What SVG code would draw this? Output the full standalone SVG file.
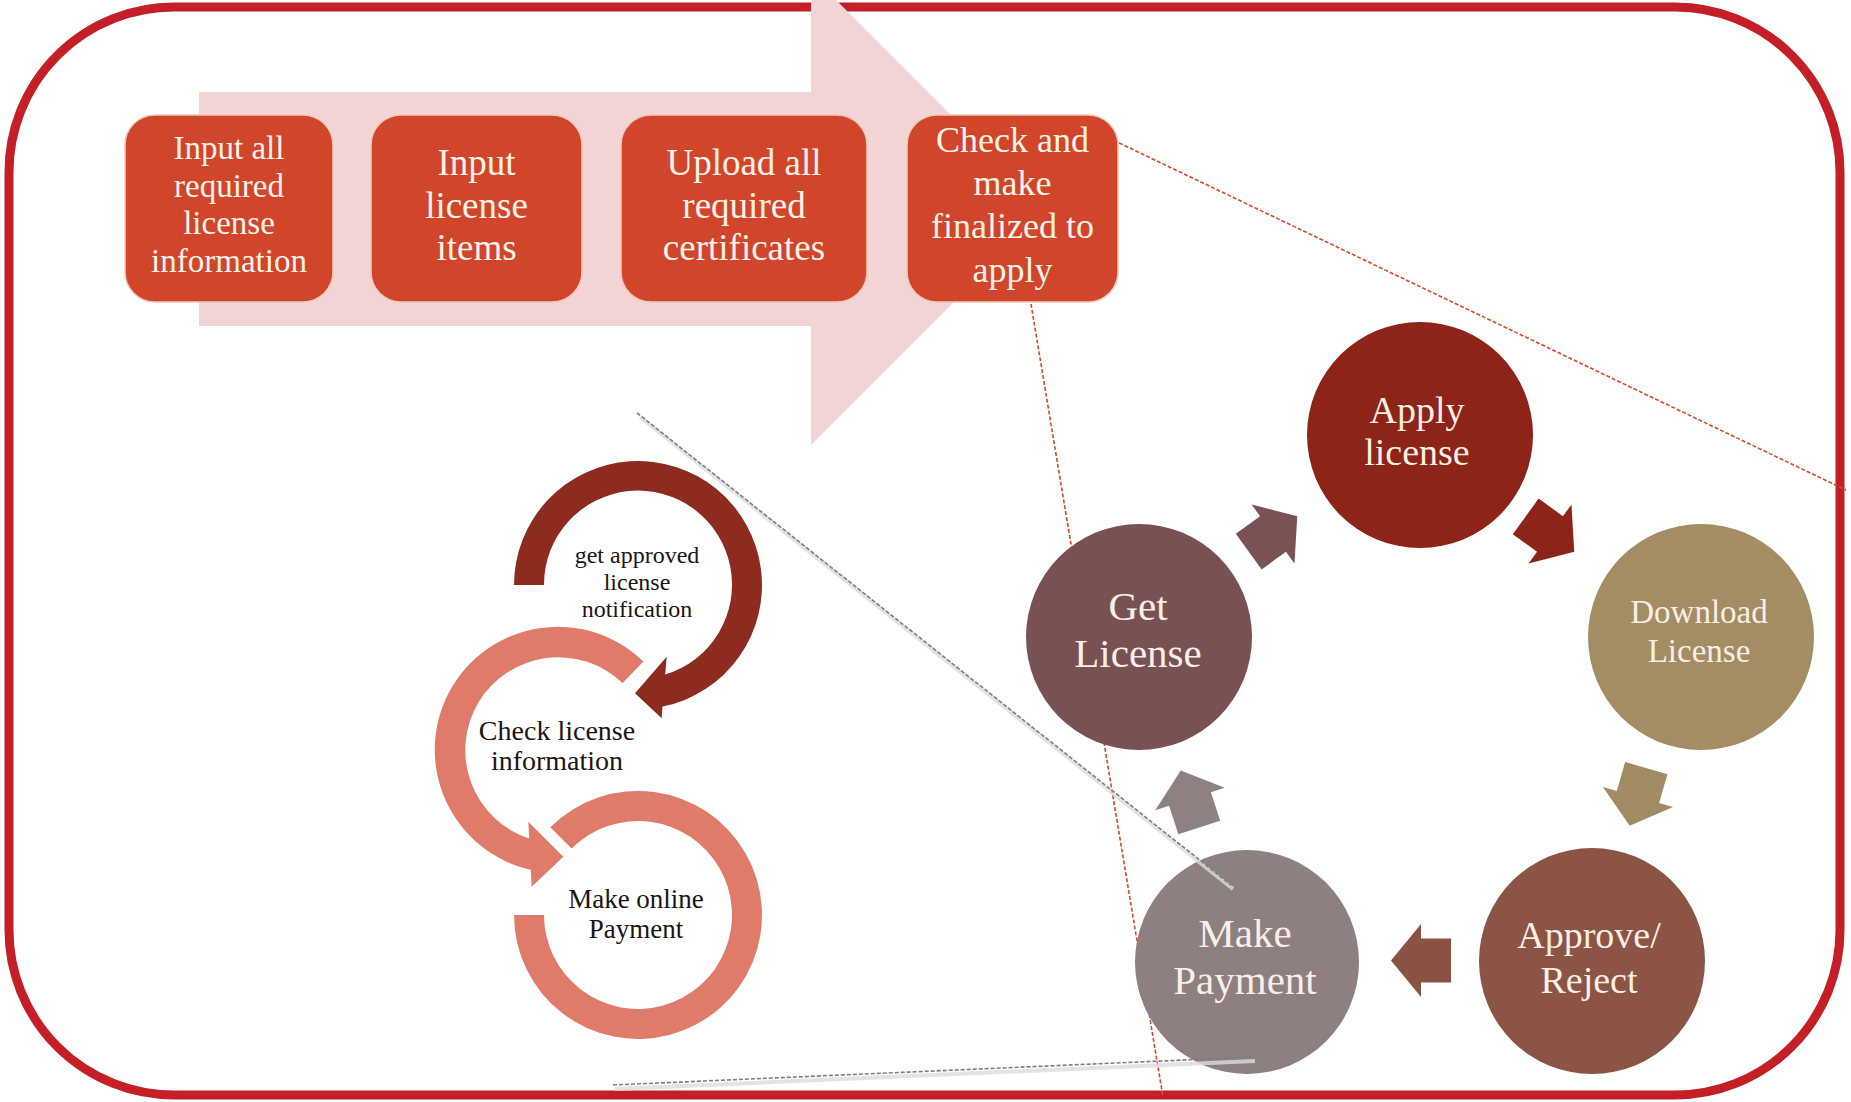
<svg xmlns="http://www.w3.org/2000/svg" width="1851" height="1102" viewBox="0 0 1851 1102">
<style>
  .box{fill:#d1462b;stroke:#f0c9b8;stroke-width:1.5}
  .boxtxt{font-family:"Liberation Serif",serif;fill:#fdf3ea;text-anchor:middle}
  .ctxt{font-family:"Liberation Serif",serif;fill:#f8efe6;text-anchor:middle}
  .stxt{font-family:"Liberation Serif",serif;fill:#1c1414;text-anchor:middle}
  .reddash{fill:none;stroke:#d44a2c;stroke-width:1.6;stroke-dasharray:4 2}
  .graydash{fill:none;stroke:#7d7d7d;stroke-width:1.6;stroke-dasharray:4 2}
  .grayshadow{fill:none;stroke:#dcdcdc;stroke-width:4;opacity:0.8}
</style>
<defs>
  <path id="blockArrow" d="M-30,-22 L0,-22 L0,-36.5 L30,0 L0,36.5 L0,22 L-30,22 Z"/>
</defs>
<rect width="1851" height="1102" fill="#ffffff"/>
<rect id="frame" x="9" y="7" width="1831" height="1088" rx="165" ry="165" fill="none" stroke="#c41f26" stroke-width="9"/>

<g id="big-arrow">
  <polygon points="199,92 811,92 811,-25 1046,210 811,445 811,326 199,326" fill="#f2d4d4"/>
</g>

<g id="box-input-info">
  <rect class="box" x="125" y="115" width="208" height="187" rx="30"/>
  <text class="boxtxt" font-size="33" x="229"><tspan x="229" y="159">Input all</tspan><tspan x="229" y="196.5">required</tspan><tspan x="229" y="234">license</tspan><tspan x="229" y="271.5">information</tspan></text>
</g>
<g id="box-input-items">
  <rect class="box" x="371" y="115" width="211" height="187" rx="30"/>
  <text class="boxtxt" font-size="37" x="476.5"><tspan x="476.5" y="175">Input</tspan><tspan x="476.5" y="218">license</tspan><tspan x="476.5" y="260">items</tspan></text>
</g>
<g id="box-upload">
  <rect class="box" x="621" y="115" width="246" height="187" rx="30"/>
  <text class="boxtxt" font-size="37" x="744"><tspan x="744" y="175">Upload all</tspan><tspan x="744" y="218">required</tspan><tspan x="744" y="260">certificates</tspan></text>
</g>
<g id="box-check">
  <rect class="box" x="907" y="115" width="211" height="187" rx="30"/>
  <text class="boxtxt" font-size="36" x="1012.5"><tspan x="1012.5" y="152">Check and</tspan><tspan x="1012.5" y="195">make</tspan><tspan x="1012.5" y="238">finalized to</tspan><tspan x="1012.5" y="282">apply</tspan></text>
</g>

<g id="guides-back">
  <line class="reddash" x1="1092" y1="130" x2="1846" y2="490"/>
  <line class="reddash" x1="1031" y1="304" x2="1163" y2="1097"/>
</g>

<g id="step-notification">
  <path d="M514,585 A124,124 0 1 1 662.5,706.6 L661.7,718.3 L635,693.3 L666.7,656.7 L665.2,674.6 A94,94 0 1 0 544,585 Z" fill="#8e2b1f"/>
  <text class="stxt" font-size="24"><tspan x="637" y="563">get approved</tspan><tspan x="637" y="590">license</tspan><tspan x="637" y="617">notification</tspan></text>
</g>
<g id="step-check-info">
  <path d="M643.4,661.5 A123,123 0 1 0 530.8,869.8 L531.7,886.7 L563.3,856.7 L528.3,821.7 L529.2,838.6 A93,93 0 1 1 622.6,683.1 Z" fill="#e07b69"/>
  <text class="stxt" font-size="28"><tspan x="557" y="740">Check license</tspan><tspan x="557" y="770">information</tspan></text>
</g>
<g id="step-online-payment">
  <path d="M550.3,827.3 A124,124 0 1 1 514,915 L544,915 A94,94 0 1 0 571.5,848.5 Z" fill="#e07b69"/>
  <text class="stxt" font-size="27"><tspan x="636" y="908">Make online</tspan><tspan x="636" y="938">Payment</tspan></text>
</g>

<g id="node-apply">
  <circle cx="1420" cy="435" r="113" fill="#8e2317"/>
  <text class="ctxt" font-size="38"><tspan x="1417" y="423">Apply</tspan><tspan x="1417" y="465">license</tspan></text>
</g>
<g id="node-download">
  <circle cx="1701" cy="637" r="113" fill="#a48c63"/>
  <text class="ctxt" font-size="33"><tspan x="1699" y="623">Download</tspan><tspan x="1699" y="662">License</tspan></text>
</g>
<g id="node-approve">
  <circle cx="1592" cy="961" r="113" fill="#8b5444"/>
  <text class="ctxt" font-size="38"><tspan x="1589" y="948">Approve/</tspan><tspan x="1589" y="993">Reject</tspan></text>
</g>
<g id="node-payment">
  <circle cx="1247" cy="962" r="112" fill="#8e7f80"/>
  <text class="ctxt" font-size="41"><tspan x="1245" y="947">Make</tspan><tspan x="1245" y="994">Payment</tspan></text>
</g>
<g id="node-get">
  <circle cx="1139" cy="637" r="113" fill="#7a5153"/>
  <text class="ctxt" font-size="41"><tspan x="1138" y="620">Get</tspan><tspan x="1138" y="667">License</tspan></text>
</g>

<g id="connectors">
  <use href="#blockArrow" transform="translate(1273,534) rotate(-36)" fill="#7b5254"/>
  <use href="#blockArrow" transform="translate(1550,534) rotate(36)" fill="#8d2419"/>
  <use href="#blockArrow" transform="translate(1638,797) rotate(106)" fill="#a08b62"/>
  <use href="#blockArrow" transform="translate(1421,960.5) rotate(180)" fill="#8a5242"/>
  <use href="#blockArrow" transform="translate(1190,799) rotate(-108)" fill="#8f8081"/>
</g>

<g id="guides-front">
  <line class="grayshadow" x1="640" y1="417" x2="1233" y2="889"/>
  <line class="graydash" x1="637" y1="413" x2="1231" y2="885"/>
  <line class="grayshadow" x1="615" y1="1089" x2="1255" y2="1061"/>
  <line class="graydash" x1="613" y1="1085" x2="1253" y2="1057"/>
</g>
</svg>
